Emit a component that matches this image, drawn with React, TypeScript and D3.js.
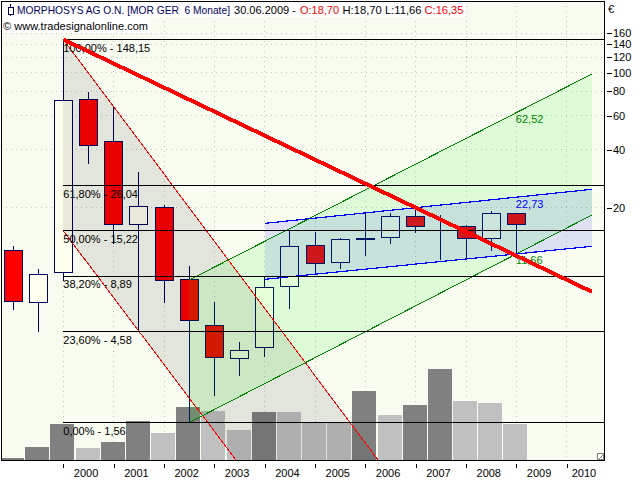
import React, { useEffect, useRef } from "react";
import * as d3 from "d3";

// half-year candles, first one is 2nd half 1998
const opens = [12.12, 6.51, 9.3, 72.7, 44.1, 16.38, 20.14, 8.56, 4.95, 3.35, 3.81, 7.84, 12.82, 10.42, 13.7, 14.1, 18.1, 16.07, 16.07, 13.93, 18.7];
const highs = [12.71, 9.67, 148.15, 79.3, 67.2, 30.6, 20.7, 10.02, 6.53, 4.06, 8.9, 15.38, 15.02, 14.03, 18.82, 18.89, 20.2, 18.38, 16.32, 19.34, 18.7];
const lows = [5.94, 4.59, 8.42, 33.8, 13.02, 4.57, 6.48, 1.56, 2.14, 2.72, 3.4, 6.03, 9.08, 9.67, 11.29, 13.02, 14.89, 10.76, 11.06, 11.98, 11.66];
const closes = [6.56, 9.08, 72.1, 42.1, 16.46, 20.4, 8.46, 5.26, 3.38, 3.68, 7.78, 12.67, 10.35, 13.77, 13.98, 18.1, 15.99, 16.07, 13.93, 18.76, 16.35];
const volumes = [2, 14, 40, 13, 20, 43, 30, 58, 54, 33, 53, 53, 41, 41, 76, 49, 60, 100, 65, 63, 40];
const volumeDark = [1, 1, 1, 0, 1, 1, 0, 1, 0, 0, 1, 0, 0, 0, 1, 0, 1, 1, 0, 0, 0];

const yTicks = [160, 140, 120, 100, 80, 60, 40, 20];
const xTickPeriods = [2, 4, 6, 8, 10, 12, 14, 16, 18, 20, 22];
const years = ["2000", "2001", "2002", "2003", "2004", "2005", "2006", "2007", "2008", "2009", "2010"];

const fibPercents = ["100,00%", "61,80%", "50,00%", "38,20%", "23,60%", "0,00%"];
const fibPrices = [148.15, 26.04, 15.22, 8.89, 4.58, 1.56];

// [period, price] ends of the drawn trend tools
const redUpper = [[2, 148.15], [14.51, 0.998]];
const redLower = [[2, 15.22], [8.86, 0.998]];
const greenUpper = [[7, 8.49], [23, 98.3]];
const greenLower = [[7, 1.56], [23, 18.38]];
const blueUpper = [[10, 16.65], [23, 24.95]];
const blueLower = [[10, 8.56], [23, 12.67]];
const trendLine = [[2, 148.15], [23, 7.38]];

const FONT = "'Liberation Sans', Arial, sans-serif";
const NAVY = "#000060";

export default function App() {
  const ref = useRef<SVGSVGElement>(null);

  useEffect(() => {
    const svg = d3.select(ref.current);
    svg.selectAll("*").remove();

    const left = 1, right = 604, top = 1, bottom = 460;
    const x = d3.scaleLinear().domain([0, 22]).range([13, 566.7]);
    const y = d3.scaleLog().domain([148.15, 1.56]).range([39.5, 422.5]);
    const vol = d3.scaleLinear().domain([0, 100]).range([460, 369]);

    svg.append("rect").attr("width", 640).attr("height", 480).attr("fill", "#fff");
    svg.append("rect").attr("x", left).attr("y", top).attr("width", right - left).attr("height", bottom - top).attr("fill", "#f8fbf0");

    svg.append("clipPath").attr("id", "plot").append("rect")
      .attr("x", left).attr("y", top).attr("width", right - left).attr("height", bottom - top);
    const plot = svg.append("g").attr("clip-path", "url(#plot)").attr("shape-rendering", "crispEdges");

    // dotted grid
    plot.selectAll(".gy").data(yTicks).join("line")
      .attr("x1", left).attr("x2", right).attr("y1", (d) => y(d)).attr("y2", (d) => y(d))
      .attr("stroke", "#c4c6be").attr("stroke-dasharray", "1 4");
    plot.selectAll(".gx").data(xTickPeriods).join("line")
      .attr("x1", (d) => x(d)).attr("x2", (d) => x(d)).attr("y1", top).attr("y2", bottom)
      .attr("stroke", "#c4c6be").attr("stroke-dasharray", "1 4");

    // volume
    plot.selectAll(".vol").data(volumes).join("rect")
      .attr("x", (_, i) => x(i) - 13).attr("width", 24)
      .attr("y", (d) => vol(d)).attr("height", (d) => 460 - vol(d))
      .attr("fill", (_, i) => (volumeDark[i] ? "#808080" : "#c0c0c0"));

    // candles
    const candles = plot.selectAll(".candle").data(opens).join("g");
    candles.append("line")
      .attr("x1", (_, i) => x(i)).attr("x2", (_, i) => x(i))
      .attr("y1", (_, i) => y(highs[i])).attr("y2", (_, i) => y(lows[i]))
      .attr("stroke", NAVY);
    candles.append("rect")
      .attr("x", (_, i) => x(i) - 9).attr("width", 18)
      .attr("y", (_, i) => y(Math.max(opens[i], closes[i])))
      .attr("height", (_, i) => Math.abs(y(opens[i]) - y(closes[i])))
      .attr("fill", (_, i) => (closes[i] < opens[i] ? "#ff0000" : "#fffff0"))
      .attr("stroke", NAVY);

    // trend tool fills
    const band = (a: number[][], b: number[][], fill: string) => {
      const pts = [...a, ...[...b].reverse()].map((p) => [x(p[0]), y(p[1])] as [number, number]);
      plot.append("path").attr("d", d3.line()(pts) + "Z").attr("fill", fill).attr("stroke", "none");
    };
    const edge = (a: number[][], color: string, width: number) => {
      plot.append("path")
        .attr("d", d3.line()(a.map((p) => [x(p[0]), y(p[1])] as [number, number])))
        .attr("fill", "none").attr("stroke", color).attr("stroke-width", width);
    };
    band(redUpper, redLower, "rgba(0,0,0,0.085)");
    band(greenUpper, greenLower, "rgba(0,255,0,0.1)");
    band(blueUpper, blueLower, "rgba(0,0,255,0.1)");
    edge(redUpper, "#ff0000", 1);
    edge(redLower, "#ff0000", 1);
    edge(greenUpper, "#008000", 1);
    edge(greenLower, "#008000", 1);
    edge(blueUpper, "#0000ff", 1.2);
    edge(blueLower, "#0000ff", 1.2);

    // fibonacci levels
    plot.selectAll(".fib").data(fibPrices).join("line")
      .attr("x1", x(2)).attr("x2", right).attr("y1", (d) => y(d)).attr("y2", (d) => y(d))
      .attr("stroke", "#000");

    const text = svg.append("g").attr("clip-path", "url(#plot)").attr("font-family", FONT).attr("font-size", 11);
    text.selectAll(".fibl").data(fibPrices).join("text")
      .attr("x", x(2)).attr("y", (d) => y(d) + 12)
      .attr("fill", "#000")
      .text((d, i) => `${fibPercents[i]} - ${d3.format(".2f")(d).replace(".", ",")}`);
    const endLabels: [string, number, number, string][] = [
      ["62,52", 20, 62.52, "#008000"],
      ["22,73", 20, 22.73, "#0000ff"],
      ["11,66", 20, 11.66, "#008000"],
    ];
    text.selectAll(".endl").data(endLabels).join("text")
      .attr("x", (d) => x(d[1]) - 0.5)
      .attr("y", (d, i) => y(d[2]) + [11, 11, 11][i])
      .attr("fill", (d) => d[3])
      .text((d) => d[0]);

    // thick trend line over everything
    const over = svg.append("g").attr("clip-path", "url(#plot)").attr("shape-rendering", "crispEdges");
    over.append("path")
      .attr("d", d3.line()(trendLine.map((p) => [x(p[0]), y(p[1])] as [number, number])))
      .attr("fill", "none").attr("stroke", "#ff0000").attr("stroke-width", 4);

    // frame
    svg.append("rect").attr("x", left).attr("y", top).attr("width", right - left).attr("height", bottom - top)
      .attr("fill", "none").attr("stroke", "#000").attr("shape-rendering", "crispEdges");

    // axes, labels sit apart from ticks as in the original
    const yAxis = svg.append("g").attr("transform", `translate(${right + 3},0)`)
      .call(d3.axisRight(y).tickValues(yTicks).tickFormat(d3.format("d") as any).tickSize(5).tickPadding(1));
    const xAxis = svg.append("g").attr("transform", `translate(0,${bottom + 4})`)
      .call(d3.axisBottom(x).tickValues(xTickPeriods).tickFormat(() => "").tickSize(4));
    [yAxis, xAxis].forEach((a) => {
      a.select(".domain").remove();
      a.selectAll("line").attr("stroke", "#000").attr("shape-rendering", "crispEdges");
    });
    yAxis.selectAll("text").attr("font-family", FONT).attr("font-size", 11).attr("fill", "#000");
    svg.selectAll(".year").data(years).join("text")
      .attr("x", (_, i) => x(xTickPeriods[i]) + (i === 10 ? 5 : 10.5)).attr("y", 477)
      .attr("font-family", FONT).attr("font-size", 11).attr("fill", "#000")
      .text((d) => d);
    svg.append("text").attr("x", 608).attr("y", 13).attr("font-family", FONT).attr("font-size", 11).text("€");

    // resize grip
    svg.append("rect").attr("x", 597.5).attr("y", 453.5).attr("width", 6).attr("height", 6)
      .attr("fill", "#fff").attr("stroke", "#808080").attr("shape-rendering", "crispEdges");
    svg.append("line").attr("x1", 599).attr("y1", 459).attr("x2", 603).attr("y2", 455).attr("stroke", "#808080");

    // header
    svg.append("rect").attr("x", 2).attr("y", 2).attr("width", 464).attr("height", 15).attr("fill", "#fff");
    svg.append("rect").attr("x", 2).attr("y", 17).attr("width", 148).attr("height", 16).attr("fill", "#fff");
    svg.append("line").attr("x1", 10.5).attr("x2", 10.5).attr("y1", 4).attr("y2", 16).attr("stroke", NAVY).attr("shape-rendering", "crispEdges");
    svg.append("rect").attr("x", 8).attr("y", 7).attr("width", 5).attr("height", 7).attr("fill", "#fff").attr("stroke", NAVY).attr("shape-rendering", "crispEdges");
    const header: [string, number, string, number][] = [
      ["MORPHOSYS AG O.N. [MOR GER \u00a06 Monate]", 17, NAVY, 213],
      ["30.06.2009 -", 234, "#000", 62],
      ["O:18,70", 300, "#ff0000", 39],
      ["H:18,70 L:11,66", 342.5, "#000", 79],
      ["C:16,35", 424.5, "#ff0000", 39],
    ];
    svg.selectAll(".head").data(header).join("text")
      .attr("x", (d) => d[1]).attr("y", 14).attr("fill", (d) => d[2])
      .attr("font-family", FONT).attr("font-size", 11)
      .attr("textLength", (d) => d[3]).attr("lengthAdjust", "spacingAndGlyphs")
      .text((d) => d[0]);
    svg.append("text").attr("x", 3).attr("y", 30).attr("font-family", FONT).attr("font-size", 11)
      .attr("textLength", 145).attr("lengthAdjust", "spacingAndGlyphs").text("© www.tradesignalonline.com");
  }, []);

  return <svg ref={ref} width={640} height={480} style={{ position: "absolute", left: 0, top: 0 }} />;
}
